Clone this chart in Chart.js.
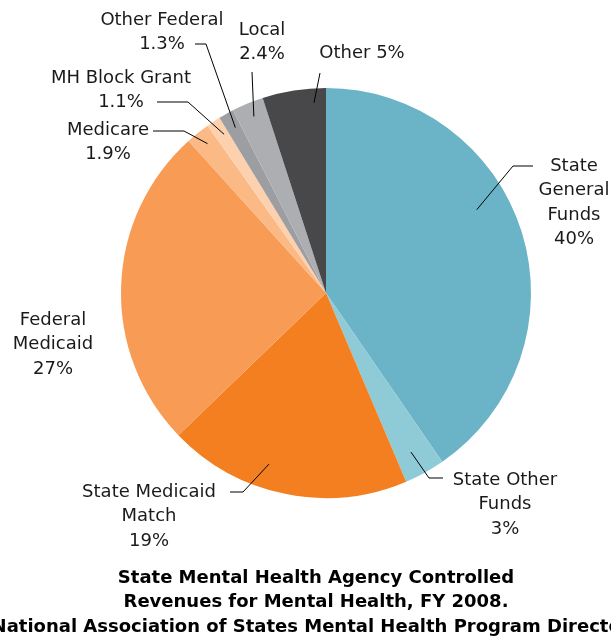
<!DOCTYPE html>
<html lang="en">
<head>
  <title>SMHA Controlled Revenues FY 2008</title>
  <meta charset="UTF-8" />
  <script src="https://cdn.jsdelivr.net/npm/chart.js"></script>
  <style>
    html, body { margin: 0; padding: 0; background: #fff; }
    #wrap { width: 611px; height: 639px; }
  </style>
</head>
<body>
  <div id="wrap"><canvas id="myChart" width="611" height="639"></canvas></div>

  <script>
    // data (slice sizes in percent)
    const categories = ['State General Funds', 'State Other Funds', 'State Medicaid Match', 'Federal Medicaid',
      'Medicare', 'MH Block Grant', 'Other Federal', 'Local', 'Other'];
    const shares = [40.4, 3.2, 19.2, 25.5, 1.9, 1.1, 1.2, 2.5, 5.0];
    const shareLabels = ['40%', '3%', '19%', '27%', '1.9%', '1.1%', '1.3%', '2.4%', '5%'];
    const colors = ['#6bb3c6', '#8fcad7', '#f47f21', '#f89b55', '#fbb985', '#fdd1ad', '#9d9ea1', '#adaeb1', '#48484b'];
    const titleLines = ['State Mental Health Agency Controlled', 'Revenues for Mental Health, FY 2008.',
      'National Association of States Mental Health Program Directors'];

    // label placement: text lines, text centre x / first line y, leader anchor inside slice (t along arc, f of radius), leader path
    const labelLayout = [
      { lines: ['State', 'General', 'Funds'], x: 574, y: 166, t: 0.42, f: 0.84, path: [[513, 166], [533, 166]] },
      { lines: ['State Other', 'Funds'], x: 505, y: 480, t: 0.56, f: 0.88, path: [[429, 478], [443, 478]] },
      { lines: ['State Medicaid', 'Match'], x: 149, y: 492, t: 0.60, f: 0.88, path: [[243, 492], [230, 492]] },
      { lines: ['Federal', 'Medicaid'], x: 53, y: 320, t: null },
      { lines: ['Medicare'], x: 108, y: 130, t: 0.54, f: 0.93, path: [[184, 131], [153, 131]] },
      { lines: ['MH Block Grant'], x: 121, y: 78, t: 0.65, f: 0.92, path: [[188, 102], [157, 102]] },
      { lines: ['Other Federal'], x: 162, y: 20, t: 0.60, f: 0.92, path: [[206, 44], [195, 44]] },
      { lines: ['Local'], x: 262, y: 30, t: 0.53, f: 0.93, path: [[252, 72]] },
      { lines: [], x: 362, y: 53, t: 0.80, f: 0.93, path: [[320, 73]], inline: 'Other ' }
    ];

    const labelFont = '18px "DejaVu Sans", sans-serif';
    const titleFont = 'bold 18px "DejaVu Sans", sans-serif';

    const pieLabels = {
      id: 'pieLabels',
      afterDraw(chart) {
        const ctx = chart.ctx;
        const meta = chart.getDatasetMeta(0);
        ctx.save();
        ctx.strokeStyle = '#000';
        ctx.lineWidth = 1;
        ctx.fillStyle = '#1a1a1a';
        ctx.font = labelFont;
        ctx.textAlign = 'center';
        ctx.textBaseline = 'middle';

        labelLayout.forEach((lab, i) => {
          // leader line from a point inside the slice
          if (lab.t !== null) {
            const arc = meta.data[i];
            const a = arc.startAngle + lab.t * (arc.endAngle - arc.startAngle);
            const r = arc.outerRadius * lab.f;
            ctx.beginPath();
            ctx.moveTo(arc.x + Math.cos(a) * r, arc.y + Math.sin(a) * r);
            lab.path.forEach(p => ctx.lineTo(p[0], p[1]));
            ctx.stroke();
          }
          let lines = lab.lines.concat([shareLabels[i]]);
          if (lab.inline) lines = [lab.inline + shareLabels[i]];
          lines.forEach((txt, k) => ctx.fillText(txt, lab.x, lab.y + k * 24.5));
        });

        // title under the pie
        ctx.font = titleFont;
        ctx.fillStyle = '#000';
        titleLines.forEach((txt, k) => ctx.fillText(txt, 316, 578 + k * 24.5));
        ctx.restore();
      }
    };

    new Chart(document.getElementById('myChart'), {
      type: 'pie',
      data: {
        labels: categories,
        datasets: [{
          data: shares,
          backgroundColor: colors,
          borderWidth: 0
        }]
      },
      options: {
        responsive: false,
        animation: false,
        layout: { padding: { left: 121, right: 80, top: 88, bottom: 141 } },
        plugins: {
          legend: { display: false },
          tooltip: { enabled: false }
        }
      },
      plugins: [pieLabels]
    });
  </script>
</body>
</html>
